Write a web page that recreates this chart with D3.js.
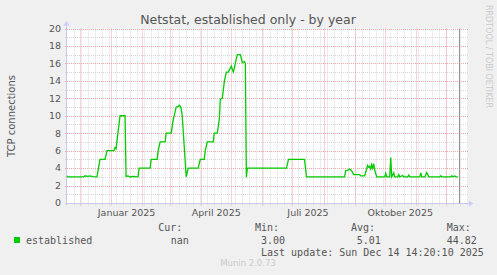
<!DOCTYPE html>
<html>
<head>
<meta charset="utf-8">
<script src="https://cdn.jsdelivr.net/npm/d3@7"></script>
<style>
  body { margin: 0; background: #f0f0f0; }
  svg { display: block; }
  text { fill: #555; font-family: "DejaVu Sans", sans-serif; }
  .mono { font-family: "DejaVu Sans Mono", monospace; font-size: 10px; }
</style>
</head>
<body>
<div id="vis"></div>
<script>
// data: day and value of each vertex of the line
var dates = ["2024-11-18","2024-11-19","2024-12-05","2024-12-06","2024-12-09","2024-12-11","2024-12-14","2024-12-18",
  "2024-12-21","2024-12-26","2024-12-28","2025-01-04","2025-01-05","2025-01-06","2025-01-10","2025-01-15","2025-01-16",
  "2025-01-18","2025-01-20","2025-01-23","2025-01-28","2025-01-29","2025-02-09","2025-02-10","2025-02-16","2025-02-17",
  "2025-02-19","2025-02-24","2025-02-25","2025-03-02","2025-03-04","2025-03-07","2025-03-09","2025-03-10","2025-03-11",
  "2025-03-12","2025-03-13","2025-03-17","2025-03-19","2025-03-29","2025-03-31","2025-04-04","2025-04-05","2025-04-07",
  "2025-04-13","2025-04-14","2025-04-17","2025-04-19","2025-04-20","2025-04-22","2025-04-24","2025-04-26","2025-04-28",
  "2025-05-01","2025-05-02","2025-05-03","2025-05-07","2025-05-10","2025-05-12","2025-05-14","2025-05-15","2025-05-16",
  "2025-05-17","2025-06-25","2025-06-27","2025-07-13","2025-07-15","2025-08-22","2025-08-23","2025-08-25","2025-08-27",
  "2025-08-29","2025-08-31","2025-09-06","2025-09-07","2025-09-11","2025-09-14","2025-09-15","2025-09-16","2025-09-17",
  "2025-09-18","2025-09-19","2025-09-20","2025-09-21","2025-09-23","2025-10-01","2025-10-02","2025-10-03","2025-10-06",
  "2025-10-07","2025-10-08","2025-10-10","2025-10-11","2025-10-14","2025-10-15","2025-10-16","2025-10-19","2025-10-20",
  "2025-10-24","2025-10-25","2025-10-26","2025-11-05","2025-11-06","2025-11-07","2025-11-10","2025-11-12","2025-11-14",
  "2025-11-25","2025-11-26","2025-11-27","2025-12-06","2025-12-07","2025-12-08","2025-12-10","2025-12-11","2025-12-13"];
var values = [3.1,3.0,3.0,3.12,3.05,3.1,3.02,3.0,
  5.0,5.0,6.0,6.0,6.35,6.2,10.0,10.0,3.05,
  3.1,2.98,3.05,3.0,4.0,4.0,5.0,5.0,6.0,
  7.0,7.0,8.0,8.0,9.5,11.0,11.05,11.2,11.1,
  10.8,10.0,3.0,4.0,4.0,5.0,5.0,6.0,7.0,
  7.0,8.0,8.0,9.6,11.9,12.0,13.9,15.0,15.0,
  15.7,15.3,15.0,17.0,17.0,16.1,16.2,16.0,2.95,
  4.0,4.0,5.0,5.0,3.0,3.0,3.7,3.75,3.9,
  3.7,3.25,3.25,3.1,3.1,4.3,4.1,4.2,3.9,
  4.4,4.0,4.5,3.8,3.0,3.0,3.4,3.0,3.0,
  5.2,3.0,3.45,3.0,3.0,3.25,3.0,3.15,3.0,
  3.0,3.2,3.0,3.0,3.45,3.0,3.0,3.5,3.0,
  3.0,3.12,3.0,3.0,3.12,3.0,3.1,3.0,3.0];

var yTicks = [0, 2, 4, 6, 8, 10, 12, 14, 16, 18, 20];
var labelMonths = ["2025-01-01", "2025-04-01", "2025-07-01", "2025-10-01"];
var labelTexts = ["Januar 2025", "April 2025", "Juli 2025", "Oktober 2025"];
var nowTime = "2025-12-14T14:20:10";

var legendHeads = ["Cur:", "Min:", "Avg:", "Max:"];
var legendVals = ["nan", "3.00", "5.01", "44.82"];

var width = 497, height = 275;
var plot = { left: 67, right: 468, top: 28.5, bottom: 203.5 };

var parse = d3.utcParse("%Y-%m-%d");
var series = dates.map(function(d, i) { return { t: parse(d), v: values[i] }; });

var svg = d3.select('#vis').append('svg')
  .attr('width', width).attr('height', height);

svg.append('rect').attr('width', width).attr('height', height).attr('fill', '#f0f0f0');

var x = d3.scaleUtc()
  .domain([new Date(Date.UTC(2024, 10, 18, 2)), new Date(Date.UTC(2025, 11, 23, 2))])
  .range([plot.left, plot.right]);
var y = d3.scaleLinear().domain([0, 20]).range([plot.bottom - 0.5, plot.top]);

// canvas
svg.append('rect')
  .attr('x', plot.left).attr('y', plot.top)
  .attr('width', plot.right - plot.left).attr('height', plot.bottom - plot.top)
  .attr('fill', '#ffffff');

var grid = svg.append('g');

// minor grid: every unit / every monday
grid.selectAll('.hmin').data(d3.range(1, 20, 2)).enter().append('line')
  .attr('x1', plot.left - 2).attr('x2', plot.right)
  .attr('y1', function(d) { return Math.round(y(d)) + 0.5; })
  .attr('y2', function(d) { return Math.round(y(d)) + 0.5; })
  .attr('stroke', '#d8d8d8').attr('stroke-dasharray', '1,1');

var mondays = d3.utcMonday.range(x.domain()[0], x.domain()[1]);
grid.selectAll('.vmin').data(mondays).enter().append('line')
  .attr('x1', function(d) { return Math.round(x(d)) + 0.5; })
  .attr('x2', function(d) { return Math.round(x(d)) + 0.5; })
  .attr('y1', plot.top).attr('y2', plot.bottom + 2)
  .attr('stroke', '#d8d8d8').attr('stroke-dasharray', '1,1');

// major grid: every 2 / every month
grid.selectAll('.hmaj').data(yTicks).enter().append('line')
  .attr('x1', plot.left - 2).attr('x2', plot.right)
  .attr('y1', function(d) { return Math.round(y(d)) + 0.5; })
  .attr('y2', function(d) { return Math.round(y(d)) + 0.5; })
  .attr('stroke', '#eca8a8').attr('stroke-dasharray', '1,1');

var months = d3.utcMonth.range(x.domain()[0], x.domain()[1]);
grid.selectAll('.vmaj').data(months).enter().append('line')
  .attr('x1', function(d) { return Math.round(x(d)) + 0.5; })
  .attr('x2', function(d) { return Math.round(x(d)) + 0.5; })
  .attr('y1', plot.top).attr('y2', plot.bottom + 2)
  .attr('stroke', '#eca8a8').attr('stroke-dasharray', '1,1');

// axes with arrows
svg.append('line')
  .attr('x1', plot.left - 0.5).attr('x2', plot.left - 0.5)
  .attr('y1', plot.top - 4).attr('y2', plot.bottom + 2)
  .attr('stroke', '#c8c8f0');
svg.append('line')
  .attr('x1', plot.left - 2).attr('x2', plot.right + 2)
  .attr('y1', plot.bottom).attr('y2', plot.bottom)
  .attr('stroke', '#c8c8f0');
svg.append('path')
  .attr('d', 'M' + (plot.left - 3.5) + ',' + (plot.top - 3) + 'L' + (plot.left - 0.5) + ',' + (plot.top - 7.5) + 'L' + (plot.left + 2.5) + ',' + (plot.top - 3) + 'Z')
  .attr('fill', '#ccccff');
svg.append('path')
  .attr('d', 'M' + (plot.right + 1) + ',' + (plot.bottom - 3) + 'L' + (plot.right + 5.5) + ',' + plot.bottom + 'L' + (plot.right + 1) + ',' + (plot.bottom + 3) + 'Z')
  .attr('fill', '#ccccff');

// y tick labels
svg.selectAll('.ylab').data(yTicks).enter().append('text')
  .attr('x', plot.left - 6)
  .attr('y', function(d) { return y(d); })
  .attr('dy', '0.35em')
  .attr('text-anchor', 'end')
  .style('font-size', '9.5px')
  .text(function(d) { return d; });

// x labels, centred on the month
svg.selectAll('.xlab').data(labelMonths).enter().append('text')
  .attr('x', function(d) {
    var t = parse(d);
    return (x(t) + x(d3.utcMonth.offset(t, 1))) / 2;
  })
  .attr('y', 216)
  .attr('text-anchor', 'middle')
  .style('font-size', '9.5px')
  .text(function(d, i) { return labelTexts[i]; });

// data line
var line = d3.line()
  .x(function(d) { return x(d.t); })
  .y(function(d) { return y(d.v); });
svg.append('path')
  .datum(series)
  .attr('d', line)
  .attr('fill', 'none')
  .attr('stroke', '#00cc00')
  .attr('stroke-width', 1.3);

// "now" rule
var nx = Math.round(x(d3.isoParse(nowTime + "Z"))) + 0.5;
svg.append('line')
  .attr('x1', nx).attr('x2', nx)
  .attr('y1', plot.top).attr('y2', plot.bottom)
  .attr('stroke', '#909090');

// titles
svg.append('text')
  .attr('x', 248).attr('y', 24)
  .attr('text-anchor', 'middle')
  .style('font-size', '12.5px')
  .text('Netstat, established only - by year');

svg.append('text')
  .attr('transform', 'translate(15,' + ((plot.top + plot.bottom) / 2) + ') rotate(-90)')
  .attr('text-anchor', 'middle')
  .style('font-size', '10px')
  .text('TCP connections');

svg.append('text')
  .attr('transform', 'translate(486,5) rotate(90)')
  .attr('text-anchor', 'start')
  .style('font-size', '8px')
  .style('fill', '#cacaca')
  .text('RRDTOOL / TOBI OETIKER');

// legend
var headX = [158.3, 255, 351, 446.7];
var valX = [170.7, 261, 356.7, 446.7];
svg.selectAll('.lhead').data(legendHeads).enter().append('text')
  .attr('class', 'mono')
  .attr('x', function(d, i) { return headX[i]; })
  .attr('y', 231)
  .text(function(d) { return d; });

svg.append('rect')
  .attr('x', 14).attr('y', 237).attr('width', 6).attr('height', 6)
  .attr('fill', '#00cc00');
svg.append('text').attr('class', 'mono').attr('x', 26).attr('y', 243.5).text('established');

svg.selectAll('.lval').data(legendVals).enter().append('text')
  .attr('class', 'mono')
  .attr('x', function(d, i) { return valX[i]; })
  .attr('y', 243.5)
  .text(function(d) { return d; });

svg.append('text').attr('class', 'mono').attr('x', 261).attr('y', 255.5)
  .text('Last update: Sun Dec 14 14:20:10 2025');

svg.append('text')
  .attr('x', 248).attr('y', 266)
  .attr('text-anchor', 'middle')
  .style('font-size', '8.5px')
  .style('fill', '#cacaca')
  .text('Munin 2.0.73');
</script>
</body>
</html>
